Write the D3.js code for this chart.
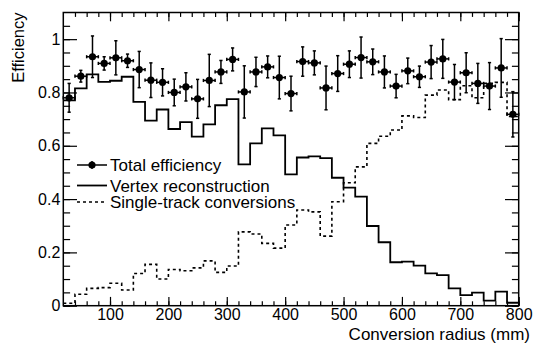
<!DOCTYPE html>
<html>
<head>
<meta charset="utf-8">
<script src="https://cdn.jsdelivr.net/npm/d3@7"></script>
<style>
  body { margin: 0; background: #fff; }
  text { font-family: "Liberation Sans", Arial, Helvetica, sans-serif; fill: #000; }
</style>
</head>
<body>
<div id="chart"></div>
<script>
// conversion radius bins: 20 mm wide, from 20 to 800 mm
const binEdges = d3.range(20, 801, 20);

// total efficiency with its (symmetric) uncertainty
const totalEff = [0.78, 0.861, 0.934, 0.909, 0.93, 0.919, 0.886, 0.846, 0.838, 0.80,
    0.821, 0.776, 0.845, 0.877, 0.924, 0.802, 0.877, 0.896, 0.856, 0.796,
    0.916, 0.911, 0.817, 0.871, 0.906, 0.931, 0.915, 0.877, 0.824, 0.881,
    0.859, 0.914, 0.926, 0.839, 0.874, 0.834, 0.824, 0.892, 0.718];
const totalErr = [0.054, 0.022, 0.078, 0.025, 0.064, 0.025, 0.068, 0.065, 0.051, 0.05,
    0.053, 0.073, 0.098, 0.043, 0.043, 0.098, 0.055, 0.041, 0.08, 0.065,
    0.055, 0.045, 0.082, 0.067, 0.05, 0.077, 0.048, 0.06, 0.044, 0.048,
    0.04, 0.062, 0.073, 0.066, 0.075, 0.075, 0.088, 0.11, 0.085];

// vertex reconstruction (solid histogram)
const vertexEff = [0.77, 0.815, 0.868, 0.84, 0.844, 0.859, 0.765, 0.694, 0.736, 0.663,
    0.689, 0.634, 0.68, 0.752, 0.775, 0.53, 0.609, 0.665, 0.639, 0.493,
    0.556, 0.56, 0.554, 0.48, 0.443, 0.409, 0.299, 0.238, 0.163, 0.165,
    0.15, 0.121, 0.115, 0.065, 0.04, 0.049, 0.019, 0.053, 0.011];

// single-track conversions (dashed histogram)
const singleEff = [0.009, 0.043, 0.065, 0.068, 0.084, 0.059, 0.121, 0.155, 0.1, 0.136,
    0.131, 0.142, 0.168, 0.125, 0.149, 0.277, 0.269, 0.234, 0.216, 0.303,
    0.359, 0.352, 0.261, 0.39, 0.461, 0.521, 0.609, 0.636, 0.659, 0.712,
    0.706, 0.79, 0.809, 0.773, 0.825, 0.78, 0.834, 0.838, 0.71];

const xMajor = [100, 200, 300, 400, 500, 600, 700, 800];
const xMinor = d3.range(40, 801, 20);
const yMajor = [0, 0.2, 0.4, 0.6, 0.8, 1];
const yMinor = d3.range(0, 1.1, 0.05);

const legendItems = ["Total efficiency", "Vertex reconstruction", "Single-track conversions"];

var svgwidth = 536;
var svgheight = 343;
var fLeft = 63.3, fRight = 518.7, fTop = 12.5, fBottom = 305.7;

var svg = d3.select("#chart")
    .append("svg")
    .attr("width", svgwidth)
    .attr("height", svgheight)
    .style("display", "block");

var xscale = d3.scaleLinear().domain([20, 800]).range([fLeft, fRight]);
var yscale = d3.scaleLinear().domain([0, 1.1]).range([fBottom, fTop]);

// ROOT-like ticks, all drawn inside the frame
function tickAxis(axis, vals, size) {
    return axis.tickValues(vals).tickSize(size).tickFormat("");
}

var axes = svg.append("g").attr("class", "axes");

axes.append("g").attr("transform", `translate(0, ${fBottom})`)
    .call(tickAxis(d3.axisBottom(xscale), xMinor, -4.4));
axes.append("g").attr("transform", `translate(0, ${fBottom})`)
    .call(d3.axisBottom(xscale).tickValues(xMajor).tickSize(-8.8).tickPadding(3).tickFormat(d3.format("d")));
axes.append("g").attr("transform", `translate(0, ${fTop})`)
    .call(tickAxis(d3.axisTop(xscale), xMinor, -4.4));
axes.append("g").attr("transform", `translate(0, ${fTop})`)
    .call(tickAxis(d3.axisTop(xscale), xMajor, -8.8));

axes.append("g").attr("transform", `translate(${fLeft}, 0)`)
    .call(tickAxis(d3.axisLeft(yscale), yMinor, -6.8));
axes.append("g").attr("transform", `translate(${fLeft}, 0)`)
    .call(d3.axisLeft(yscale).tickValues(yMajor).tickSize(-13.7).tickPadding(3).tickFormat(d => d === 0 || d === 1 ? d3.format("d")(d) : d3.format(".1f")(d)));
axes.append("g").attr("transform", `translate(${fRight}, 0)`)
    .call(tickAxis(d3.axisRight(yscale), yMinor, -6.8));
axes.append("g").attr("transform", `translate(${fRight}, 0)`)
    .call(tickAxis(d3.axisRight(yscale), yMajor, -13.7));

axes.selectAll(".domain").remove();
axes.selectAll(".tick line").attr("stroke", "#000").attr("stroke-width", 1.2);
axes.selectAll(".tick text")
    .style("font-size", "16px")
    .style("font-family", '"Liberation Sans", Arial, sans-serif')
    .attr("fill", "#000");

// histograms as steps
var stepLine = d3.line()
    .x(d => xscale(d.x))
    .y(d => yscale(d.y))
    .curve(d3.curveStepAfter);

function stepData(vals) {
    var pts = vals.map((v, i) => ({ x: binEdges[i], y: v }));
    pts.push({ x: binEdges[vals.length], y: vals[vals.length - 1] });
    return pts;
}

svg.append("path")
    .datum(stepData(singleEff))
    .attr("d", stepLine)
    .attr("fill", "none")
    .attr("stroke", "#000")
    .attr("stroke-width", 1.6)
    .attr("stroke-dasharray", "3,3");

svg.append("path")
    .datum(stepData(vertexEff))
    .attr("d", stepLine)
    .attr("fill", "none")
    .attr("stroke", "#000")
    .attr("stroke-width", 1.8);

// total efficiency points with error bars
var pts = totalEff.map((v, i) => ({
    lo: binEdges[i], hi: binEdges[i + 1], c: (binEdges[i] + binEdges[i + 1]) / 2,
    y: v, e: totalErr[i]
}));

var pg = svg.append("g").attr("stroke", "#000").attr("stroke-width", 1.5);
var cap = 1.6;

pts.forEach(d => {
    var cx = xscale(d.c), cy = yscale(d.y);
    var yt = yscale(d.y + d.e), yb = yscale(d.y - d.e);
    var xl = xscale(d.lo), xr = xscale(d.hi);
    pg.append("line").attr("x1", cx).attr("x2", cx).attr("y1", yt).attr("y2", yb);
    pg.append("line").attr("x1", xl).attr("x2", xr).attr("y1", cy).attr("y2", cy);
    pg.append("line").attr("x1", cx - cap).attr("x2", cx + cap).attr("y1", yt).attr("y2", yt);
    pg.append("line").attr("x1", cx - cap).attr("x2", cx + cap).attr("y1", yb).attr("y2", yb);
    pg.append("line").attr("x1", xl).attr("x2", xl).attr("y1", cy - cap).attr("y2", cy + cap);
    pg.append("line").attr("x1", xr).attr("x2", xr).attr("y1", cy - cap).attr("y2", cy + cap);
    pg.append("circle").attr("cx", cx).attr("cy", cy).attr("r", 3.6)
        .attr("fill", "#000").attr("stroke", "none");
});

// frame
svg.append("rect")
    .attr("x", fLeft).attr("y", fTop)
    .attr("width", fRight - fLeft).attr("height", fBottom - fTop)
    .attr("fill", "none").attr("stroke", "#000").attr("stroke-width", 1.5);

// axis titles
svg.append("text")
    .attr("transform", `translate(24, ${fTop}) rotate(-90)`)
    .attr("text-anchor", "end")
    .style("font-size", "16.5px")
    .text("Efficiency");

svg.append("text")
    .attr("x", 530).attr("y", 340)
    .attr("text-anchor", "end")
    .style("font-size", "17px")
    .text("Conversion radius (mm)");

// legend
var legendY = [165, 185.5, 202];
var lg = svg.append("g");
legendItems.forEach((name, i) => {
    var ly = legendY[i];
    var l = lg.append("line")
        .attr("x1", 77).attr("x2", 107).attr("y1", ly).attr("y2", ly)
        .attr("stroke", "#000").attr("stroke-width", i === 1 ? 1.8 : 1.5);
    if (i === 2) l.attr("stroke-dasharray", "3,3");
    if (i === 0) {
        lg.append("line").attr("x1", 92).attr("x2", 92).attr("y1", ly - 4).attr("y2", ly + 4)
            .attr("stroke", "#000").attr("stroke-width", 1.5);
        lg.append("circle").attr("cx", 92).attr("cy", ly).attr("r", 3.6).attr("fill", "#000");
    }
    lg.append("text")
        .attr("x", 110).attr("y", ly + 6)
        .style("font-size", "17px")
        .text(name);
});
</script>
</body>
</html>
